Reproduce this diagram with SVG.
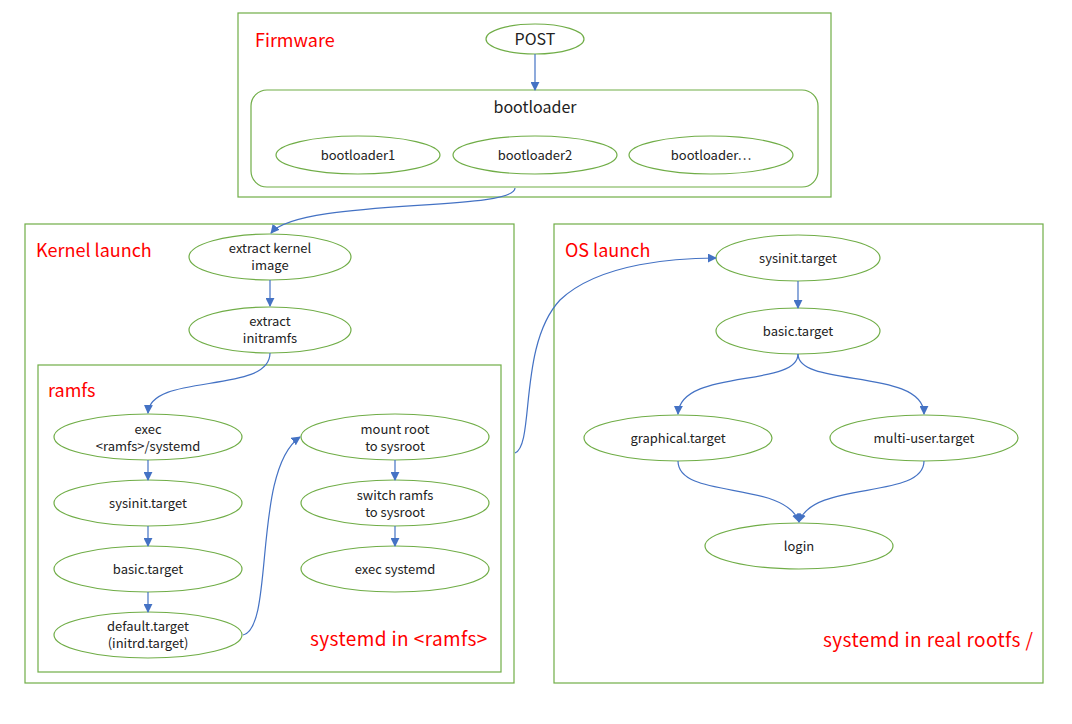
<svg xmlns="http://www.w3.org/2000/svg" width="1072" height="724" viewBox="0 0 1072 724">
<style>
.box{fill:none;stroke:#70AD47;stroke-width:1.2}
.el{fill:#fff;stroke:#70AD47;stroke-width:1.2}
.t{font-family:"Noto Sans CJK SC","Noto Sans",sans-serif;font-size:13px;fill:#222;text-anchor:middle}
.tb{font-family:"Noto Sans CJK SC","Noto Sans",sans-serif;font-size:16px;fill:#222;text-anchor:middle}
.lbl{font-family:"Noto Sans CJK SC","Noto Sans",sans-serif;font-size:18px;fill:#FF0000}
.lb2{font-family:"Noto Sans CJK SC","Noto Sans",sans-serif;font-size:19px;letter-spacing:0.4px;fill:#FF0000}
.c{fill:none;stroke:#4472C4;stroke-width:1.2;marker-end:url(#arr)}
</style>
<defs>
<marker id="arr" viewBox="0 0 10 10" refX="9" refY="5" markerWidth="9" markerHeight="9" markerUnits="userSpaceOnUse" orient="auto">
<path d="M0,0 L10,5 L0,10 z" fill="#4472C4"/>
</marker>
</defs>
<rect width="1072" height="724" fill="#fff"/>
<g id="firmware">
<rect class="box" x="238" y="13" width="593" height="184"/>
<text class="lbl" x="255" y="47">Firmware</text>
</g>
<g id="kernel-launch">
<rect class="box" x="25" y="224" width="489" height="459"/>
<text class="lbl" x="36" y="257">Kernel launch</text>
</g>
<g id="ramfs">
<rect class="box" x="38" y="365" width="463" height="307"/>
<text class="lbl" x="48" y="397">ramfs</text>
<text class="lb2" x="310" y="646">systemd in &lt;ramfs&gt;</text>
</g>
<g id="os-launch">
<rect class="box" x="554" y="224" width="489" height="459"/>
<text class="lbl" x="565" y="257">OS launch</text>
<text class="lb2" x="823" y="647">systemd in real rootfs /</text>
</g>
<g id="post"><ellipse class="el" cx="535" cy="39" rx="49" ry="15"/><text class="tb" x="535" y="45">POST</text></g>
<g id="bootloader">
<rect class="box" x="251" y="90" width="567" height="97" rx="16"/>
<text class="tb" x="535" y="113">bootloader</text>
</g>
<g id="bootloader1"><ellipse class="el" cx="358" cy="155" rx="82" ry="19"/><text class="t" x="358" y="160">bootloader1</text></g>
<g id="bootloader2"><ellipse class="el" cx="535" cy="155" rx="82" ry="19"/><text class="t" x="535" y="160">bootloader2</text></g>
<g id="bootloader3"><ellipse class="el" cx="711" cy="155" rx="82" ry="19"/><text class="t" x="711" y="160">bootloader…</text></g>
<g id="extract-kernel"><ellipse class="el" cx="270" cy="257" rx="81" ry="23"/><text class="t" x="270" y="253">extract kernel</text><text class="t" x="270" y="270">image</text></g>
<g id="extract-initramfs"><ellipse class="el" cx="270" cy="330" rx="81" ry="23"/><text class="t" x="270" y="326">extract</text><text class="t" x="270" y="343">initramfs</text></g>
<g id="exec-ramfs"><ellipse class="el" cx="148" cy="437" rx="94" ry="23"/><text class="t" x="148" y="434">exec</text><text class="t" x="148" y="451">&lt;ramfs&gt;/systemd</text></g>
<g id="r-sysinit"><ellipse class="el" cx="148" cy="503" rx="94" ry="23"/><text class="t" x="148" y="508">sysinit.target</text></g>
<g id="r-basic"><ellipse class="el" cx="148" cy="569" rx="94" ry="23"/><text class="t" x="148" y="574">basic.target</text></g>
<g id="r-default"><ellipse class="el" cx="148" cy="635" rx="94" ry="23"/><text class="t" x="148" y="631">default.target</text><text class="t" x="148" y="648">(initrd.target)</text></g>
<g id="mount-root"><ellipse class="el" cx="395" cy="437" rx="94" ry="23"/><text class="t" x="395" y="434">mount root</text><text class="t" x="395" y="451">to sysroot</text></g>
<g id="switch-ramfs"><ellipse class="el" cx="395" cy="503" rx="94" ry="23"/><text class="t" x="395" y="500">switch ramfs</text><text class="t" x="395" y="517">to sysroot</text></g>
<g id="exec-systemd"><ellipse class="el" cx="395" cy="569" rx="94" ry="23"/><text class="t" x="395" y="574">exec systemd</text></g>
<g id="o-sysinit"><ellipse class="el" cx="798" cy="258" rx="82" ry="23"/><text class="t" x="798" y="263">sysinit.target</text></g>
<g id="o-basic"><ellipse class="el" cx="798" cy="331" rx="82" ry="23"/><text class="t" x="798" y="336">basic.target</text></g>
<g id="graphical"><ellipse class="el" cx="678" cy="438" rx="94" ry="23"/><text class="t" x="678" y="443">graphical.target</text></g>
<g id="multi-user"><ellipse class="el" cx="924" cy="438" rx="94" ry="23"/><text class="t" x="924" y="443">multi-user.target</text></g>
<g id="login"><ellipse class="el" cx="799" cy="546" rx="94" ry="23"/><text class="t" x="799" y="551">login</text></g>
<g id="connectors">
<path class="c" d="M535,54 L535,90"/>
<path class="c" d="M515,188 C515,212 300,198 271,233"/>
<path class="c" d="M270,280 L270,306"/>
<path class="c" d="M270,353 C270,395 150,372 148,413"/>
<path class="c" d="M148,460 L148,480"/>
<path class="c" d="M148,526 L148,546"/>
<path class="c" d="M148,592 L148,612"/>
<path class="c" d="M243,635 C275,628 252,470 300,437"/>
<path class="c" d="M395,460 L395,480"/>
<path class="c" d="M395,526 L395,546"/>
<path class="c" d="M515,453 C535,445 518,345 560,300 C600,262 680,258 716,258"/>
<path class="c" d="M798,281 L798,308"/>
<path class="c" d="M798,354 C798,388 680,368 678,414"/>
<path class="c" d="M798,354 C798,388 924,368 924,414"/>
<path class="c" d="M678,461 C678,500 785,480 799,522"/>
<path class="c" d="M924,461 C924,500 813,480 799,522"/>
</g>
</svg>
